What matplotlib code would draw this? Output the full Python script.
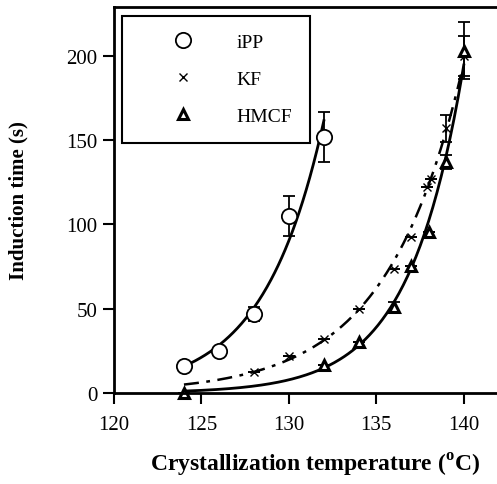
import numpy as np
import matplotlib
matplotlib.use("Agg")
import matplotlib.pyplot as plt

plt.rcParams['font.family'] = ['Liberation Serif', 'DejaVu Serif']
plt.rcParams['mathtext.fontset'] = 'custom'
plt.rcParams['mathtext.rm'] = 'Liberation Serif'
plt.rcParams['mathtext.bf'] = 'Liberation Serif:bold'

# iPP
ipp_t = [124, 126, 128, 130, 132]
ipp_y = [16, 25, 47, 105, 152]
ipp_err = [0, 0, 4, 12, 15]

# KF
kf_t = [128, 130, 132, 134, 136, 137, 137.9, 138.1, 139, 140]
kf_y = [12.5, 22, 32, 50, 73.5, 92.5, 122, 127, 157, 200]
kf_err = [0, 0, 0, 0, 0, 0, 0, 0, 8, 12]

# HMCF
hm_t = [124, 132, 134, 136, 137, 138, 139, 140]
hm_y = [0, 16.5, 30, 51, 75.5, 95.5, 137, 203]
hm_err = [0, 0, 0, 3, 0, 0, 4, 17]


def exp_fit(t, y, t0, t1):
    # exponential trend line fitted through the positive points
    t = np.asarray(t, float)
    y = np.asarray(y, float)
    m = y > 0
    b, a = np.polyfit(t[m], np.log(y[m]), 1, w=np.sqrt(y[m]))
    tt = np.linspace(t0, t1, 200)
    return tt, np.exp(a + b * tt)


fig = plt.figure(figsize=(4.97, 4.85), dpi=100)
ax = fig.add_axes([114 / 497, 1 - 394 / 485, 383 / 497, 386 / 485])

tt, yy = exp_fit(ipp_t, ipp_y, 124, 132)
ax.plot(tt, yy, color='black', lw=2)
tt, yy = exp_fit(kf_t, kf_y, 124, 139.9)
ax.plot(tt, yy, color='black', lw=1.8, linestyle=(0, (6, 3, 1.5, 3)))
tt, yy = exp_fit(hm_t, hm_y, 124, 140)
ax.plot(tt, yy, color='black', lw=2)

ebkw = dict(ecolor='black', elinewidth=1.3, capsize=4, capthick=1.3, linestyle='none')
ax.errorbar(ipp_t, ipp_y, yerr=ipp_err, **ebkw)
ax.errorbar(kf_t, kf_y, yerr=kf_err, **ebkw)
ax.errorbar(hm_t, hm_y, yerr=hm_err, **ebkw)

h1, = ax.plot(ipp_t, ipp_y, 'o', ms=11, mfc='white', mec='black', mew=1.3,
              label='iPP', clip_on=False)
h2, = ax.plot(kf_t, kf_y, 'x', ms=6, mec='black', mew=1.0, label='KF', clip_on=False)
h3, = ax.plot(hm_t, hm_y, '^', ms=7, mfc='white', mec='black', mew=2.2,
              label='HMCF', clip_on=False)

ax.set_xlim(120, 141.9)
ax.set_ylim(0, 229)
ax.set_xticks([120, 125, 130, 135, 140])
ax.set_yticks([0, 50, 100, 150, 200])
ax.tick_params(direction='out', length=8, width=1.5, labelsize=15, pad=4)
ax.tick_params(axis='x', pad=8)
for s in ['left', 'bottom', 'top']:
    ax.spines[s].set_linewidth(2)
ax.spines['right'].set_visible(False)

ax.set_xlabel(r'Crystallization temperature ($^{\mathbf{o}}$C)',
              fontsize=17, fontweight='bold')
ax.xaxis.set_label_coords(0.525, -0.15)
ax.set_ylabel('Induction time (s)', fontsize=15, fontweight='bold')
ax.yaxis.set_label_coords(-0.2245, 0.5)

leg = ax.legend(handles=[h1, h2, h3], loc='upper left',
                bbox_to_anchor=(0.021, 0.977), borderaxespad=0,
                fontsize=14, frameon=True, fancybox=False, edgecolor='black',
                framealpha=1, borderpad=0.9, labelspacing=1.0,
                handlelength=4.5, handletextpad=0.5, numpoints=1)
leg.get_frame().set_linewidth(1.5)

fig.savefig('out.png', dpi=100)
